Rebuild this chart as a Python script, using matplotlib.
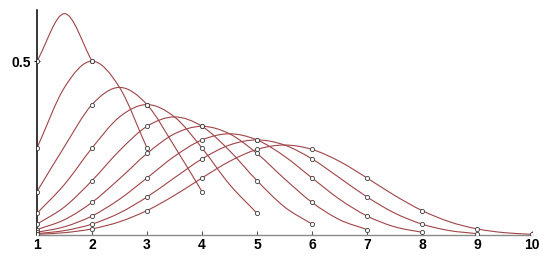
import numpy as np
import matplotlib
matplotlib.use("Agg")
import matplotlib.pyplot as plt
from matplotlib.path import Path
from matplotlib.patches import PathPatch

# binomial (p = 1/2) curves, read at x = 1, 1.5, 2, ... n+1
b1 = [0.5, 0.6366, 0.5]
b2 = [0.25, 0.4244, 0.5, 0.4244, 0.25]
b3 = [0.125, 0.2546, 0.375, 0.4244, 0.375, 0.2546, 0.125]
b4 = [0.0625, 0.1455, 0.25, 0.3395, 0.375, 0.3395, 0.25, 0.1455, 0.0625]
b5 = [0.0313, 0.0808, 0.1563, 0.2425, 0.3125, 0.3395, 0.3125, 0.2425,
      0.1563, 0.0808, 0.0313]
b6 = [0.0156, 0.0441, 0.0938, 0.1617, 0.2344, 0.2910, 0.3125, 0.2910,
      0.2344, 0.1617, 0.0938, 0.0441, 0.0156]
b7 = [0.0078, 0.0237, 0.0547, 0.1029, 0.1641, 0.2264, 0.2734, 0.2910,
      0.2734, 0.2264, 0.1641, 0.1029, 0.0547, 0.0237, 0.0078]
b8 = [0.0039, 0.0127, 0.0313, 0.0633, 0.1094, 0.1646, 0.2188, 0.2587,
      0.2734, 0.2587, 0.2188, 0.1646, 0.1094, 0.0633, 0.0313, 0.0127, 0.0039]
b9 = [0.0020, 0.0067, 0.0176, 0.0380, 0.0703, 0.1140, 0.1641, 0.2117,
      0.2461, 0.2587, 0.2461, 0.2117, 0.1641, 0.1140, 0.0703, 0.0380,
      0.0176, 0.0067, 0.0020]

xticks = list(range(1, 11))
yticks = [0.5]
ytick_labels = ["0.5"]

line_color = "#a04448"


def smooth_path(x, y):
    # Catmull-Rom through the points, drawn as cubic bezier segments
    p = np.column_stack([x, y])
    ext = np.vstack([2 * p[0] - p[1], p, 2 * p[-1] - p[-2]])
    verts = [p[0]]
    codes = [Path.MOVETO]
    for i in range(1, len(ext) - 2):
        c1 = ext[i] + (ext[i + 1] - ext[i - 1]) / 6
        c2 = ext[i + 1] - (ext[i + 2] - ext[i]) / 6
        verts += [c1, c2, ext[i + 1]]
        codes += [Path.CURVE4] * 3
    return Path(verts, codes)


fig = plt.figure(figsize=(5.5, 2.56), dpi=100)
ax = fig.add_axes([37 / 550, 21 / 256, 495 / 550, 225 / 256])

for b in [b1, b2, b3, b4, b5, b6, b7, b8, b9]:
    x = 1 + 0.5 * np.arange(len(b))
    ax.add_patch(PathPatch(smooth_path(x, b), facecolor="none",
                           edgecolor=line_color, lw=0.8, zorder=2))
    ax.plot(x[::2], b[::2], ls="none", marker="o", ms=3.0, mfc="white",
            mec="#3a3a3a", mew=0.6, zorder=3)

ax.set_xlim(1, 10)
ax.set_ylim(0, 0.647)
ax.set_xticks(xticks)
ax.set_xticklabels([str(t) for t in xticks], fontweight="bold", fontsize=10,
                   family="Liberation Sans")
ax.set_yticks(yticks)
ax.set_yticklabels(ytick_labels, fontweight="bold", fontsize=10,
                   family="Liberation Sans")
ax.tick_params(axis="x", direction="in", length=3, width=0.8, color="#555555", pad=2)
ax.tick_params(axis="y", direction="inout", length=5, width=0.8, color="#222222", pad=2)

for s in ["top", "right"]:
    ax.spines[s].set_visible(False)
ax.spines["left"].set_color("black")
ax.spines["left"].set_linewidth(1.1)
ax.spines["bottom"].set_color("#8a8a8a")
ax.spines["bottom"].set_linewidth(1.0)
ax.patch.set_alpha(0)

fig.savefig("out.png", dpi=100)
